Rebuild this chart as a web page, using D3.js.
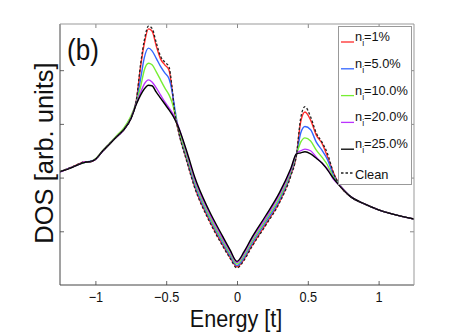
<!DOCTYPE html>
<html>
<head>
<meta charset="utf-8">
<script src="https://cdn.jsdelivr.net/npm/d3@7"></script>
<style>
  body { margin: 0; background: #fff; }
  svg { display: block; font-family: "Liberation Sans", Arial, sans-serif; }
</style>
</head>
<body>
<script>
// energy grid (units of t)
var energy = [-1.25, -1.18, -1.12, -1.08, -1.03, -1.0, -0.95, -0.9, -0.85, -0.8, -0.75,
  -0.71, -0.68, -0.655, -0.625, -0.6, -0.57, -0.54, -0.51, -0.48, -0.46, -0.44, -0.42,
  -0.35, -0.3, -0.2, -0.1, -0.05, 0, 0.05, 0.1, 0.2, 0.3, 0.38, 0.42,
  0.45, 0.48, 0.52, 0.56, 0.6, 0.64, 0.68, 0.72,
  0.8, 0.9, 1.0, 1.1, 1.25];

var dos1 = [2.11, 2.18, 2.25, 2.29, 2.30, 2.34, 2.49, 2.63, 2.76, 2.89, 3.10,
  3.45, 4.08, 4.49, 4.77, 4.73, 4.45, 4.21, 4.10, 4.00, 3.67, 3.20, 2.94,
  2.28, 1.84, 1.23, 0.74, 0.52, 0.34, 0.48, 0.71, 1.12, 1.55, 2.05, 2.42,
  3.04, 3.22, 3.07, 2.79, 2.64, 2.38, 2.10, 1.88,
  1.65, 1.51, 1.40, 1.32, 1.23];
var dos5 = [2.11, 2.18, 2.24, 2.28, 2.31, 2.34, 2.49, 2.63, 2.76, 2.89, 3.10,
  3.43, 3.85, 4.23, 4.41, 4.36, 4.22, 4.07, 3.95, 3.84, 3.63, 3.30, 2.98,
  2.32, 1.88, 1.27, 0.78, 0.55, 0.36, 0.51, 0.75, 1.16, 1.59, 2.08, 2.43,
  2.83, 2.95, 2.89, 2.66, 2.51, 2.33, 2.05, 1.88,
  1.65, 1.51, 1.40, 1.32, 1.23];
var dos10 = [2.11, 2.18, 2.24, 2.28, 2.30, 2.35, 2.50, 2.64, 2.78, 2.92, 3.14,
  3.41, 3.70, 4.00, 4.13, 4.10, 3.97, 3.82, 3.67, 3.54, 3.41, 3.22, 2.98,
  2.36, 1.93, 1.31, 0.82, 0.59, 0.39, 0.55, 0.79, 1.20, 1.63, 2.11, 2.43,
  2.66, 2.74, 2.68, 2.51, 2.38, 2.23, 2.01, 1.88,
  1.65, 1.51, 1.40, 1.32, 1.23];
var dos20 = [2.10, 2.18, 2.24, 2.29, 2.30, 2.34, 2.49, 2.63, 2.76, 2.89, 3.10,
  3.39, 3.59, 3.74, 3.82, 3.78, 3.67, 3.54, 3.41, 3.30, 3.22, 3.13, 3.00,
  2.41, 1.98, 1.36, 0.86, 0.63, 0.42, 0.59, 0.83, 1.24, 1.68, 2.14, 2.44,
  2.50, 2.53, 2.50, 2.38, 2.27, 2.16, 1.97, 1.87,
  1.65, 1.51, 1.40, 1.32, 1.23];
var dos25 = [2.11, 2.17, 2.24, 2.28, 2.30, 2.34, 2.49, 2.62, 2.76, 2.89, 3.09,
  3.37, 3.54, 3.65, 3.72, 3.71, 3.59, 3.48, 3.37, 3.26, 3.18, 3.09, 2.98,
  2.45, 2.02, 1.40, 0.90, 0.66, 0.44, 0.62, 0.86, 1.28, 1.72, 2.17, 2.44,
  2.46, 2.48, 2.44, 2.36, 2.27, 2.14, 1.99, 1.86,
  1.65, 1.51, 1.40, 1.32, 1.23];
var dosClean = [2.11, 2.18, 2.25, 2.29, 2.30, 2.34, 2.49, 2.63, 2.76, 2.89, 3.10,
  3.46, 4.13, 4.55, 4.82, 4.78, 4.51, 4.26, 4.15, 4.06, 3.71, 3.22, 2.94,
  2.26, 1.82, 1.21, 0.72, 0.50, 0.32, 0.46, 0.69, 1.10, 1.53, 2.03, 2.42,
  3.11, 3.32, 3.13, 2.83, 2.66, 2.44, 2.10, 1.88,
  1.65, 1.51, 1.40, 1.32, 1.23];

var seriesNames = ["1%", "5.0%", "10.0%", "20.0%", "25.0%", "Clean"];
var seriesColors = ["#ff2a2a", "#3366ff", "#77ee33", "#bb33ff", "#000000", "#222222"];
var seriesValues = [dos1, dos5, dos10, dos20, dos25, dosClean];

var xTicks = [-1, -0.5, 0, 0.5, 1];
var xTickLabels = ["\u22121", "\u22120.5", "0", "0.5", "1"];
var yTicks = [1, 2, 3, 4];

var width = 457, height = 332;
var margin = { left: 60, right: 43, top: 24, bottom: 47 };
var x0 = margin.left, x1 = width - margin.right;
var y0 = height - margin.bottom, y1 = margin.top;

var x = d3.scaleLinear().domain([-1.25, 1.25]).range([x0, x1]);
var y = d3.scaleLinear().domain([0, 4.86]).range([y0, y1]);

var svg = d3.select("body").append("svg")
  .attr("width", width)
  .attr("height", height);

svg.append("defs").append("clipPath").attr("id", "plot")
  .append("rect").attr("x", x0).attr("y", y1).attr("width", x1 - x0).attr("height", y0 - y1);

// ticks, inward like matlab
svg.append("g").attr("transform", "translate(0," + y0 + ")")
  .call(d3.axisBottom(x).tickValues(xTicks).tickSizeInner(-4).tickSizeOuter(0)
    .tickFormat(function (d, i) { return xTickLabels[i]; }))
  .call(function (g) {
    g.select(".domain").remove();
    g.selectAll("line").attr("stroke", "#666");
    g.selectAll("text")
      .attr("dy", null).attr("y", 17)
      .attr("transform", "scale(0.88,1)")
      .attr("fill", "#111")
      .style("font-size", "14.5px")
      .style("font-family", "Liberation Sans, Arial, sans-serif");
  });

svg.append("g").attr("transform", "translate(0," + y1 + ")")
  .call(d3.axisTop(x).tickValues(xTicks).tickSizeInner(-4).tickSizeOuter(0).tickFormat(""))
  .call(function (g) { g.select(".domain").remove(); g.selectAll("line").attr("stroke", "#888"); });

svg.append("g").attr("transform", "translate(" + x0 + ",0)")
  .call(d3.axisLeft(y).tickValues(yTicks).tickSizeInner(-4).tickSizeOuter(0).tickFormat(""))
  .call(function (g) { g.select(".domain").remove(); g.selectAll("line").attr("stroke", "#666"); });

svg.append("g").attr("transform", "translate(" + x1 + ",0)")
  .call(d3.axisRight(y).tickValues(yTicks).tickSizeInner(-4).tickSizeOuter(0).tickFormat(""))
  .call(function (g) { g.select(".domain").remove(); g.selectAll("line").attr("stroke", "#888"); });

// curves
var line = d3.line()
  .x(function (d) { return x(d[0]); })
  .y(function (d) { return y(d[1]); })
  .curve(d3.curveMonotoneX);

var plot = svg.append("g").attr("clip-path", "url(#plot)");
seriesValues.forEach(function (vals, k) {
  var pts = energy.map(function (e, i) { return [e, vals[i]]; });
  plot.append("path")
    .attr("d", line(pts))
    .attr("fill", "none")
    .attr("stroke", seriesColors[k])
    .attr("stroke-width", k == 5 ? 1.3 : 1.4)
    .attr("stroke-dasharray", k == 5 ? "2.5,2" : null)
    .attr("stroke-linejoin", "round");
});

// frame
svg.append("line").attr("x1", x0).attr("x2", x0).attr("y1", y1).attr("y2", y0).attr("stroke", "#444");
svg.append("line").attr("x1", x0).attr("x2", x1).attr("y1", y0).attr("y2", y0).attr("stroke", "#444");
svg.append("line").attr("x1", x0).attr("x2", x1).attr("y1", y1).attr("y2", y1).attr("stroke", "#999");
svg.append("line").attr("x1", x1).attr("x2", x1).attr("y1", y1).attr("y2", y0).attr("stroke", "#999");

// legend
var lg = svg.append("g");
lg.append("rect")
  .attr("x", 338.5).attr("y", 26.5).attr("width", 73).attr("height", 158)
  .attr("fill", "#fff").attr("stroke", "#999");

seriesNames.forEach(function (name, k) {
  var ly = k < 5 ? 42 + k * 26.8 : 173;
  lg.append("line")
    .attr("x1", 341).attr("x2", 354).attr("y1", ly).attr("y2", ly)
    .attr("stroke", seriesColors[k])
    .attr("stroke-width", 1.3)
    .attr("stroke-dasharray", k == 5 ? "2.5,2" : null);
  var t = lg.append("text")
    .attr("x", 355)
    .attr("y", k < 5 ? ly - 1 : ly + 5.5)
    .attr("fill", "#111")
    .style("font-size", "12.8px");
  if (k < 5) {
    t.append("tspan").text("n");
    t.append("tspan").attr("dy", 5).style("font-size", "8.5px").text("i");
    t.append("tspan").attr("dy", -5).text("=" + name);
  } else {
    t.text(name);
  }
});

// labels
svg.append("text")
  .attr("transform", "translate(67,60) scale(0.9,1)")
  .style("font-size", "29px")
  .attr("fill", "#111")
  .text("(b)");

svg.append("text")
  .attr("transform", "translate(236,327) scale(0.9,1)")
  .attr("text-anchor", "middle")
  .style("font-size", "24px")
  .attr("fill", "#111")
  .text("Energy [t]");

svg.append("text")
  .attr("transform", "translate(53,153) rotate(-90)")
  .attr("text-anchor", "middle")
  .style("font-size", "25.5px")
  .attr("fill", "#111")
  .text("DOS [arb. units]");
</script>
</body>
</html>
